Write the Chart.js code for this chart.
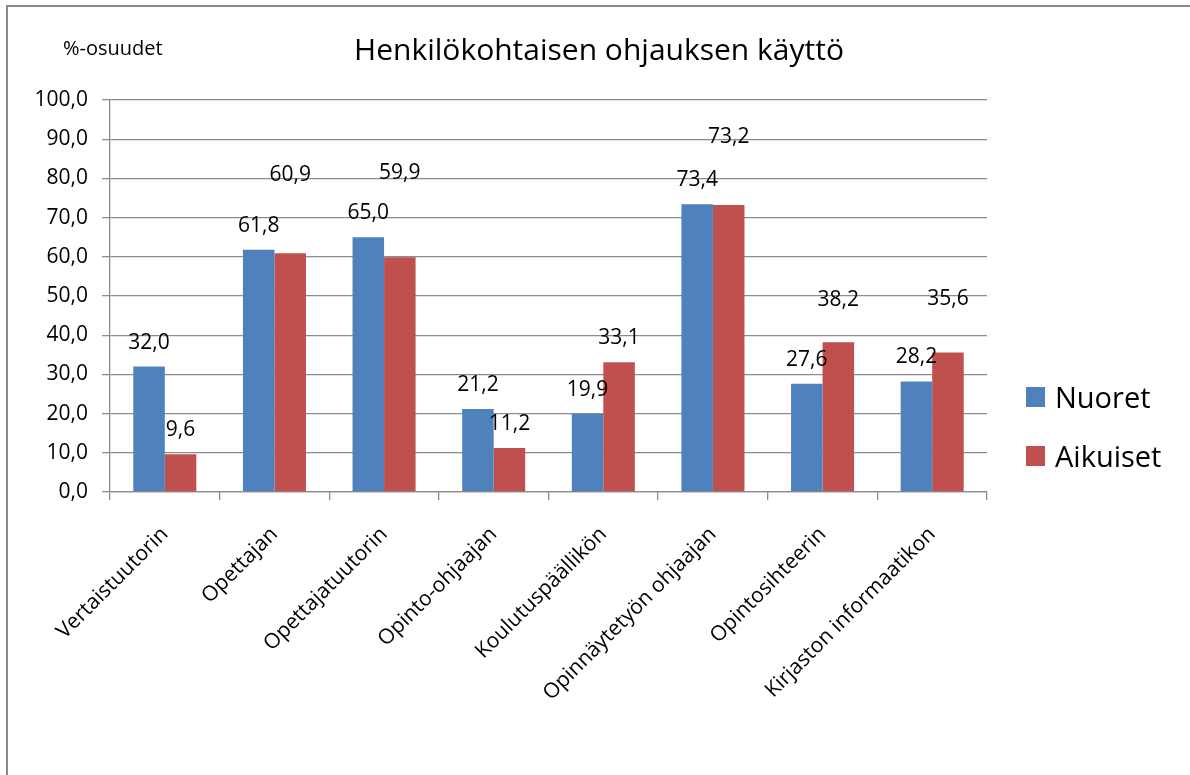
<!DOCTYPE html>
<html>
<head>
<meta charset="utf-8">
<script src="https://cdn.jsdelivr.net/npm/chart.js@4.4.0/dist/chart.umd.min.js"></script>
<style>
    html, body { margin: 0; padding: 0; background: #fff; }
    #wrap { width: 1190px; height: 775px; position: relative; }
</style>
</head>
<body>
<div id="wrap"><canvas id="ohjausChart"></canvas></div>
<script>
const categories = ['Vertaistuutorin', 'Opettajan', 'Opettajatuutorin', 'Opinto-ohjaajan',
    'Koulutuspäällikön', 'Opinnäytetyön ohjaajan', 'Opintosihteerin', 'Kirjaston informaatikon'];
const nuoret = [32.0, 61.8, 65.0, 21.2, 19.9, 73.4, 27.6, 28.2];
const aikuiset = [9.6, 60.9, 59.9, 11.2, 33.1, 73.2, 38.2, 35.6];
const yTicks = [0, 10, 20, 30, 40, 50, 60, 70, 80, 90, 100];

// extra lift (px) for labels that were dragged upwards in the original
const labelLift = [
    [0, 0, 0, 0, 0, 0, 0, 0],
    [0, 54, 60, 0, 0, 44, 18, 29]
];

const FONT = '"Open Sans", sans-serif';
const fmt = v => v.toFixed(1).replace('.', ',');

const decorPlugin = {
    id: 'decor',
    afterDatasetsDraw(chart) {
        const ctx = chart.ctx;
        const y = chart.scales.y;
        ctx.save();
        ctx.fillStyle = '#000';
        ctx.font = '21px ' + FONT;
        ctx.textAlign = 'center';
        ctx.textBaseline = 'middle';
        chart.data.datasets.forEach((ds, di) => {
            chart.getDatasetMeta(di).data.forEach((bar, i) => {
                const top = y.getPixelForValue(ds.data[i]);
                ctx.fillText(fmt(ds.data[i]), bar.x, top - 24 - labelLift[di][i]);
            });
        });
        ctx.restore();
    },
    afterDraw(chart) {
        const ctx = chart.ctx;
        ctx.save();
        // outer frame
        ctx.strokeStyle = '#8a8a8a';
        ctx.lineWidth = 2;
        ctx.beginPath();
        ctx.moveTo(7, 775);
        ctx.lineTo(7, 6);
        ctx.lineTo(1190, 6);
        ctx.stroke();

        ctx.fillStyle = '#000';
        ctx.textBaseline = 'alphabetic';
        ctx.textAlign = 'center';
        ctx.font = '30px ' + FONT;
        ctx.fillText('Henkilökohtaisen ohjauksen käyttö', 599, 60);

        ctx.textAlign = 'left';
        ctx.font = '20px ' + FONT;
        ctx.fillText('%-osuudet', 63, 55);

        // legend
        const items = [['Nuoret', '#4F81BD', 408], ['Aikuiset', '#C0504D', 467]];
        ctx.font = '29px ' + FONT;
        items.forEach(([name, col, base]) => {
            ctx.fillStyle = col;
            ctx.fillRect(1026, base - 21, 19, 20);
            ctx.fillStyle = '#000';
            ctx.fillText(name, 1055, base);
        });
        ctx.restore();
    }
};

new Chart(document.getElementById('ohjausChart'), {
    type: 'bar',
    data: {
        labels: categories,
        datasets: [
            { label: 'Nuoret', data: nuoret, backgroundColor: '#4F81BD' },
            { label: 'Aikuiset', data: aikuiset, backgroundColor: '#C0504D' }
        ]
    },
    options: {
        responsive: true,
        maintainAspectRatio: false,
        animation: false,
        layout: { padding: { left: 0, right: 203, top: 100, bottom: 0 } },
        datasets: { bar: { categoryPercentage: 0.575, barPercentage: 1.0 } },
        plugins: {
            legend: { display: false },
            tooltip: { enabled: false },
            title: { display: false }
        },
        scales: {
            y: {
                min: 0,
                max: 100,
                afterBuildTicks: s => { s.ticks = yTicks.map(v => ({ value: v })); },
                afterFit: s => { s.width = 110; },
                ticks: {
                    color: '#000',
                    padding: 14,
                    font: { family: FONT, size: 21 },
                    callback: v => fmt(v)
                },
                grid: { color: '#8c8c8c', lineWidth: 1.3, tickLength: 8 },
                border: { color: '#8c8c8c', width: 1.3 }
            },
            x: {
                afterFit: s => { s.height = 283; },
                ticks: {
                    color: '#000',
                    minRotation: 45,
                    maxRotation: 45,
                    autoSkip: false,
                    padding: 22,
                    font: { family: FONT, size: 21 }
                },
                grid: { drawOnChartArea: false, color: '#8c8c8c', lineWidth: 1.3, tickLength: 8 },
                border: { color: '#8c8c8c', width: 1.3 }
            }
        }
    },
    plugins: [decorPlugin]
});
</script>
</body>
</html>
